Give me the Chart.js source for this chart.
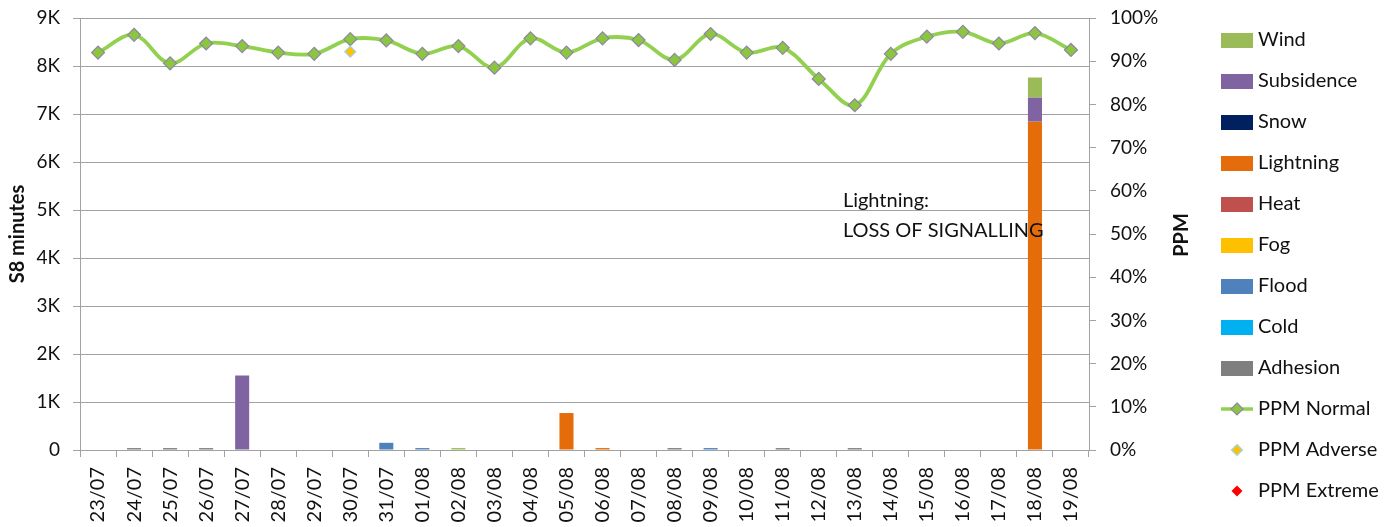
<!DOCTYPE html>
<html><head><meta charset="utf-8">
<script src="https://cdn.jsdelivr.net/npm/chart.js@4.4.0/dist/chart.umd.min.js"></script>
<style>html,body{margin:0;padding:0;background:#fff;overflow:hidden}#wrap{width:1384px;height:527px;position:relative}</style>
</head><body><div id="wrap"><canvas id="c" width="1384" height="527"></canvas></div>
<script>
const categories = ['23/07','24/07','25/07','26/07','27/07','28/07','29/07','30/07','31/07',
  '01/08','02/08','03/08','04/08','05/08','06/08','07/08','08/08','09/08','10/08',
  '11/08','12/08','13/08','14/08','15/08','16/08','17/08','18/08','19/08'];
const adhesion   = [0,40,40,40,0,0,0,0,0, 0,0,0,0,0,0,0,40,0,0, 40,0,40,0,0,0,0,0,0];
const cold       = [0,0,0,0,0,0,0,0,0, 0,0,0,0,0,0,0,0,0,0, 0,0,0,0,0,0,0,0,0];
const flood      = [0,0,0,0,0,0,0,0,150, 40,0,0,0,0,0,0,0,40,0, 0,0,0,0,0,0,0,0,0];
const fog        = [0,0,0,0,0,0,0,0,0, 0,0,0,0,0,0,0,0,0,0, 0,0,0,0,0,0,0,0,0];
const heat       = [0,0,0,0,0,0,0,0,0, 0,0,0,0,0,0,0,0,0,0, 0,0,0,0,0,0,0,0,0];
const lightning  = [0,0,0,0,0,0,0,0,0, 0,0,0,0,770,40,0,0,0,0, 0,0,0,0,0,0,0,6840,0];
const snow       = [0,0,0,0,0,0,0,0,0, 0,0,0,0,0,0,0,0,0,0, 0,0,0,0,0,0,0,0,0];
const subsidence = [0,0,0,0,1550,0,0,0,0, 0,0,0,0,0,0,0,0,0,0, 0,0,0,0,0,0,0,500,0];
const wind       = [0,0,0,0,0,0,0,0,0, 0,40,0,0,0,0,0,0,0,0, 0,0,0,0,0,0,0,420,0];
const ppmNormal  = [92.0,96.1,89.5,94.1,93.5,92.0,91.7,95.1,94.8,
  91.7,93.5,88.5,95.3,92.0,95.3,94.9,90.3,96.3,92.0,93.1,85.9,79.8,91.7,95.7,96.8,94.1,96.5,92.6];
const ppmAdverse = [null,null,null,null,null,null,null,92.2,null,
  null,null,null,null,null,null,null,null,null,null,null,null,null,null,null,null,null,null,null];
const ppmExtreme = [null,null,null,null,null,null,null,null,null,
  null,null,null,null,null,null,null,null,null,null,null,null,null,null,null,null,null,null,null];
const leftTicksMax = 9000, leftStep = 1000;
const rightTicksMax = 100, rightStep = 10;
const leftTitle = 'S8 minutes';
const rightTitle = 'PPM';
const annotationLines = ['Lightning:', 'LOSS OF SIGNALLING'];
const annotationValues = [5190, 4580];
const legendOrder = ['Wind','Subsidence','Snow','Lightning','Heat','Fog','Flood','Cold','Adhesion','PPM Normal','PPM Adverse','PPM Extreme'];

const C = {
  Wind:'#9BBB59', Subsidence:'#8064A2', Snow:'#002060', Lightning:'#E46C0A', Heat:'#C0504D',
  Fog:'#FFC000', Flood:'#4F81BD', Cold:'#00B0F0', Adhesion:'#7F7F7F',
  line:'#92D050', pt:'#8CC63F', ptBorder:'#8E86A6', adverse:'#FFC000', adverseBorder:'#9DD3E6', extreme:'#FF0000'
};
const FONT = 'Lato';
Chart.defaults.font.family = FONT;
Chart.defaults.color = '#111';

function boxImg(color){ const c=document.createElement('canvas'); c.width=32; c.height=15; const g=c.getContext('2d'); g.fillStyle=color; g.fillRect(0,0,32,15); return c; }
function diamond(g,cx,cy,r,fill,stroke,lw){ g.beginPath(); g.moveTo(cx,cy-r); g.lineTo(cx+r,cy); g.lineTo(cx,cy+r); g.lineTo(cx-r,cy); g.closePath(); g.fillStyle=fill; g.fill(); if(stroke){g.lineWidth=lw; g.strokeStyle=stroke; g.stroke();} }
function lineImg(){ const c=document.createElement('canvas'); c.width=32; c.height=16; const g=c.getContext('2d'); g.strokeStyle=C.line; g.lineWidth=3.5; g.beginPath(); g.moveTo(0,8); g.lineTo(32,8); g.stroke(); diamond(g,16,8,6,C.pt,C.ptBorder,1.2); return c; }
function dImg(fill,stroke){ const c=document.createElement('canvas'); c.width=32; c.height=16; const g=c.getContext('2d'); diamond(g,16,8,5.5,fill,stroke,1.2); return c; }
const legendImgs = {
  'Wind':boxImg(C.Wind),'Subsidence':boxImg(C.Subsidence),'Snow':boxImg(C.Snow),'Lightning':boxImg(C.Lightning),
  'Heat':boxImg(C.Heat),'Fog':boxImg(C.Fog),'Flood':boxImg(C.Flood),'Cold':boxImg(C.Cold),'Adhesion':boxImg(C.Adhesion),
  'PPM Normal':lineImg(),'PPM Adverse':dImg(C.adverse,C.adverseBorder),'PPM Extreme':dImg(C.extreme,null)
};

function barDS(label,data){ return {type:'bar',label,data,backgroundColor:C[label],borderWidth:0,yAxisID:'y',order:2,stack:'s',barPercentage:0.39,categoryPercentage:1}; }

const GRID = '#a2a2a2';
const tickFont = {family:FONT,size:19};

const legendFix = {
  id:'legendFix',
  beforeLayout(chart){
    const lg = chart.legend;
    if (lg && !lg._fixed){ const f = lg.fit; lg.fit = function(){ f.call(this); this.width = 179; }; lg._fixed = true; }
  },
  afterLayout(chart){
    const lg = chart.legend;
    if (lg){ lg.top = 2; lg.bottom = 529; }
  }
};
const extras = {
  id:'extras',
  afterDatasetsDraw(chart){
    const {ctx, scales:{x,y}} = chart;
    const cw = x.getPixelForValue(1) - x.getPixelForValue(0);
    const px = x.getPixelForValue(21) - 0.33*cw;
    ctx.save(); ctx.font = '20px '+FONT; ctx.fillStyle = '#111'; ctx.textBaseline = 'middle'; ctx.textAlign='left';
    annotationLines.forEach((t,i)=>ctx.fillText(t, px, y.getPixelForValue(annotationValues[i])));
    ctx.restore();
  },
  afterDraw(chart){
    const {ctx, chartArea} = chart;
    ctx.save(); ctx.translate(chartArea.right + 93, (chartArea.top+chartArea.bottom)/2 + 1); ctx.rotate(-Math.PI/2);
    ctx.font = 'bold 20px '+FONT; ctx.fillStyle='#111'; ctx.textAlign='center'; ctx.textBaseline='middle';
    ctx.fillText(rightTitle, 0, 0); ctx.restore();
  }
};

new Chart(document.getElementById('c'), {
  data: {
    labels: categories,
    datasets: [
      barDS('Adhesion',adhesion), barDS('Cold',cold), barDS('Flood',flood), barDS('Fog',fog), barDS('Heat',heat),
      barDS('Lightning',lightning), barDS('Snow',snow), barDS('Subsidence',subsidence), barDS('Wind',wind),
      {type:'line',label:'PPM Normal',data:ppmNormal,yAxisID:'y1',borderColor:C.line,borderWidth:3.8,tension:0.35,
        pointStyle:'rectRot',pointRadius:6.5,pointBackgroundColor:C.pt,pointBorderColor:C.ptBorder,pointBorderWidth:1.2,order:1,fill:false},
      {type:'line',label:'PPM Adverse',data:ppmAdverse,yAxisID:'y1',showLine:false,
        pointStyle:'rectRot',pointRadius:5.5,pointBackgroundColor:C.adverse,pointBorderColor:C.adverseBorder,pointBorderWidth:1.2,order:0},
      {type:'line',label:'PPM Extreme',data:ppmExtreme,yAxisID:'y1',showLine:false,
        pointStyle:'rectRot',pointRadius:5.5,pointBackgroundColor:C.extreme,pointBorderColor:C.extreme,pointBorderWidth:0,order:0}
    ]
  },
  options: {
    responsive:false, devicePixelRatio:1, animation:false,
    layout:{padding:0},
    plugins:{
      tooltip:{enabled:false},
      legend:{
        position:'right', align:'center',
        labels:{
          font:{family:FONT,size:20}, color:'#111', padding:21, usePointStyle:true, pointStyleWidth:22,
          generateLabels(chart){
            const items = Chart.defaults.plugins.legend.labels.generateLabels(chart);
            items.forEach(it=>{ it.pointStyle = legendImgs[it.text]; it.hidden=false; });
            items.sort((a,b)=>legendOrder.indexOf(a.text)-legendOrder.indexOf(b.text));
            return items;
          }
        }
      }
    },
    scales:{
      x:{
        stacked:true, offset:true,
        grid:{display:true, drawOnChartArea:false, drawTicks:true, tickLength:7, color:GRID, offset:true},
        border:{display:true,color:GRID,width:1},
        ticks:{autoSkip:false, minRotation:90, maxRotation:90, font:{family:FONT,size:20}, padding:10, color:'#111'},
        afterFit(s){ s.height = 77; }
      },
      y:{
        position:'left', stacked:true, min:0, max:leftTicksMax,
        grid:{color:GRID, tickLength:7, drawTicks:true},
        border:{display:true,color:GRID,width:1},
        ticks:{stepSize:leftStep, font:tickFont, padding:13, color:'#111',
          callback:v=> v===0 ? '0' : (v/1000)+'K'},
        title:{display:true, text:leftTitle, font:{family:FONT,size:20,weight:'bold'}, color:'#111', padding:{top:6,bottom:0}},
        afterFit(s){ s.width = 80; s.paddingTop = 18; }
      },
      y1:{
        position:'right', stacked:false, min:0, max:rightTicksMax,
        grid:{drawOnChartArea:false, color:GRID, tickLength:7, drawTicks:true},
        border:{display:true,color:GRID,width:1},
        ticks:{stepSize:rightStep, font:tickFont, padding:14, color:'#111', callback:v=> v+'%'},
        afterFit(s){ s.width = 116; s.paddingTop = 18; }
      }
    }
  },
  plugins:[legendFix, extras]
});
</script></body></html>
